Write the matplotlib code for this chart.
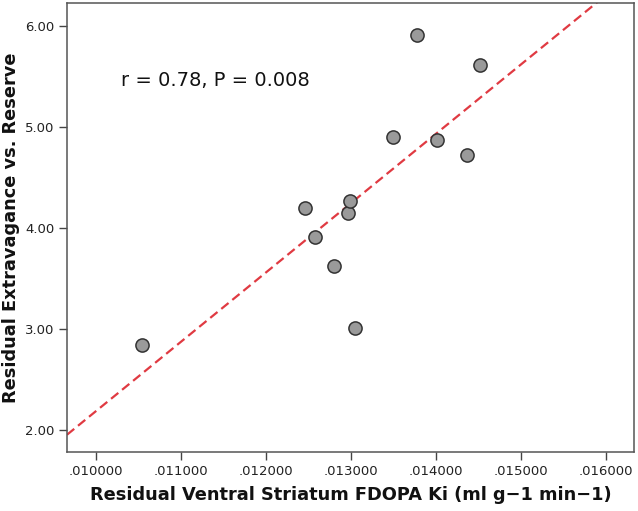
import matplotlib
matplotlib.use("Agg")
import matplotlib.pyplot as plt
import numpy as np

# residual ventral striatum FDOPA Ki vs residual extravagance
ki = [0.010540, 0.012462, 0.012583, 0.012798, 0.012962, 0.012986,
      0.013049, 0.013499, 0.013781, 0.014012, 0.014370, 0.014520]
extravagance = [2.847, 4.204, 3.918, 3.623, 4.148, 4.273,
                3.015, 4.900, 5.911, 4.874, 4.723, 5.621]

xticks = [0.010, 0.011, 0.012, 0.013, 0.014, 0.015, 0.016]
yticks = [2.0, 3.0, 4.0, 5.0, 6.0]
xlim = (0.00966, 0.01633)
ylim = (1.78, 6.23)

fig = plt.figure(figsize=(6.38, 5.11), dpi=100)
ax = fig.add_axes([0.105, 0.1145, 0.8887, 0.8795])

# fit line
slope, intercept = np.polyfit(ki, extravagance, 1)
xs = np.array(xlim)
ax.plot(xs, slope * xs + intercept, color="#e03a42", lw=1.6,
        dashes=(4.2, 2.2), zorder=2)

ax.scatter(ki, extravagance, s=90, facecolor="#9a9a9a", edgecolor="#333333",
           linewidth=1.1, zorder=3)

ax.set_xlim(xlim)
ax.set_ylim(ylim)
ax.set_xticks(xticks)
ax.set_yticks(yticks)
ax.set_xticklabels(["." + ("%.6f" % v).split(".")[1] for v in xticks], fontsize=9.5)
ax.set_yticklabels(["%.2f" % v for v in yticks], fontsize=9.5)
ax.tick_params(direction="out", length=6, width=1, color="#444444",
               labelcolor="#222222", pad=3)

for s in ax.spines.values():
    s.set_color("#555555")
    s.set_linewidth(1.1)

ax.text(0.0103, 5.46, "r = 0.78, P = 0.008", fontsize=14, va="center",
        color="#111111")

ax.set_xlabel("Residual Ventral Striatum FDOPA Ki (ml g\u22121 min\u22121)",
              fontsize=12.8, fontweight="bold", labelpad=6, color="#111111")
ax.set_ylabel("Residual Extravagance vs. Reserve",
              fontsize=12.8, fontweight="bold", labelpad=4, color="#111111")

fig.savefig("out.png", dpi=100)
